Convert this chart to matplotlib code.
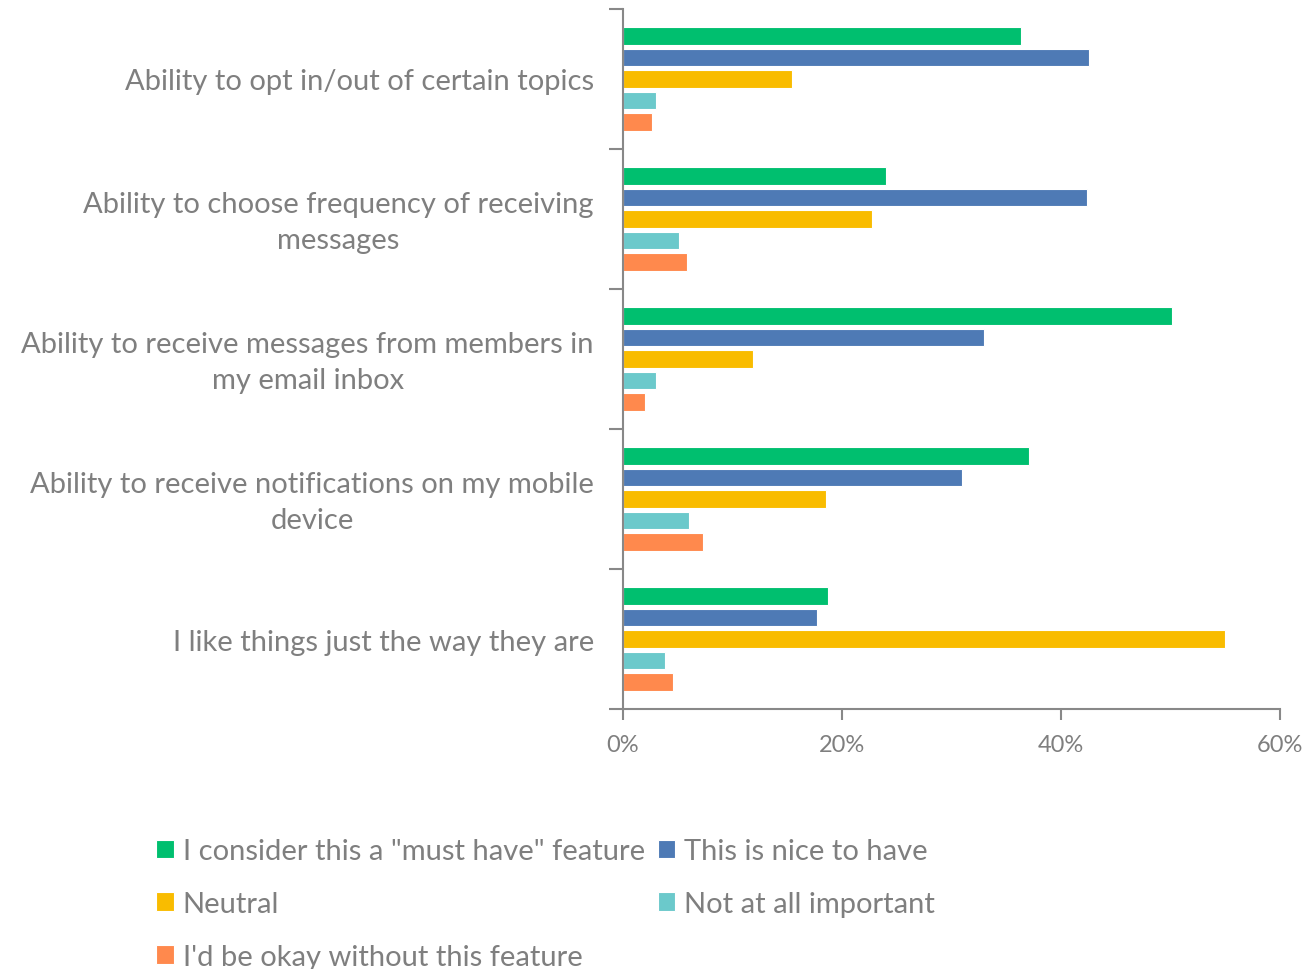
import numpy as np
import matplotlib.pyplot as plt
import matplotlib.transforms as mtransforms
from matplotlib.ticker import FixedLocator, PercentFormatter

plt.rcParams['font.family'] = ['Lato', 'DejaVu Sans']

categories = [
    "Ability to opt in/out of certain topics",
    "Ability to choose frequency of receiving\nmessages",
    "Ability to receive messages from members in\nmy email inbox",
    "Ability to receive notifications on my mobile\ndevice",
    "I like things just the way they are",
]
series_names = [
    'I consider this a "must have" feature',
    "This is nice to have",
    "Neutral",
    "Not at all important",
    "I'd be okay without this feature",
]
must_have = [36.3, 24.0, 50.1, 37.1, 18.7]
nice_to_have = [42.6, 42.4, 33.0, 31.0, 17.7]
neutral = [15.4, 22.7, 11.9, 18.5, 55.0]
not_important = [3.0, 5.1, 3.0, 6.0, 3.8]
okay_without = [2.6, 5.8, 2.0, 7.3, 4.6]

colors = ["#00BF6F", "#4E7AB5", "#F9BC00", "#6BC9CB", "#FF894D"]
gray = "#7F7F7F"

fig = plt.figure(figsize=(13.04, 9.70), dpi=100)
ax = fig.add_axes([0.4778, 0.268, 0.5038, 0.7217])

values = [must_have, nice_to_have, neutral, not_important, okay_without]
centers = np.arange(len(categories)) + 0.5
slot = 0.153
handles = []
for i, (name, vals, c) in enumerate(zip(series_names, values, colors)):
    h = ax.barh(centers + (i - 2) * slot, vals, height=0.125, color=c,
                edgecolor="white", linewidth=0.8, label=name)
    handles.append(h)

ax.set_ylim(len(categories), 0)
ax.set_xlim(0, 60)
ax.xaxis.set_major_locator(FixedLocator([0, 20, 40, 60]))
ax.xaxis.set_major_formatter(PercentFormatter(decimals=0))

# group boundaries get tick marks, labels sit at group centres
ax.yaxis.set_major_locator(FixedLocator(np.arange(len(categories) + 1)))
ax.yaxis.set_minor_locator(FixedLocator(centers))
ax.set_yticklabels([], minor=False)
ax.set_yticklabels(categories, minor=True)
ax.tick_params(axis="y", which="major", length=10, color="#888888", width=1.5)
ax.tick_params(axis="y", which="minor", length=0, pad=21, labelsize=21, labelcolor=gray)
ax.tick_params(axis="x", length=8, color="#888888", width=1.5, labelsize=17,
               labelcolor=gray, pad=10)

# two-line labels: wider line gap, nudged up a little
nudge = mtransforms.ScaledTranslation(0, 5 / 100, fig.dpi_scale_trans)
for tick in ax.yaxis.get_minor_ticks():
    lbl = tick.label1
    lbl.set_multialignment("center")
    if "\n" in lbl.get_text():
        lbl.set_linespacing(1.5)
        lbl.set_transform(lbl.get_transform() + nudge)

for s in ["top", "right"]:
    ax.spines[s].set_visible(False)
for s in ["left", "bottom"]:
    ax.spines[s].set_color("#888888")
    ax.spines[s].set_linewidth(1.5)

# legend fills column by column, so reorder to read row by row
order = [0, 2, 4, 1, 3]
fig.legend([handles[k] for k in order], [series_names[k] for k in order],
           loc="upper left", bbox_to_anchor=(0.111, 0.147), ncol=2, frameon=False,
           fontsize=21, labelcolor=gray, handlelength=0.6, handleheight=0.6,
           handletextpad=0.3, columnspacing=0.45, labelspacing=0.92,
           borderaxespad=0)

fig.savefig("out.png", dpi=100)
